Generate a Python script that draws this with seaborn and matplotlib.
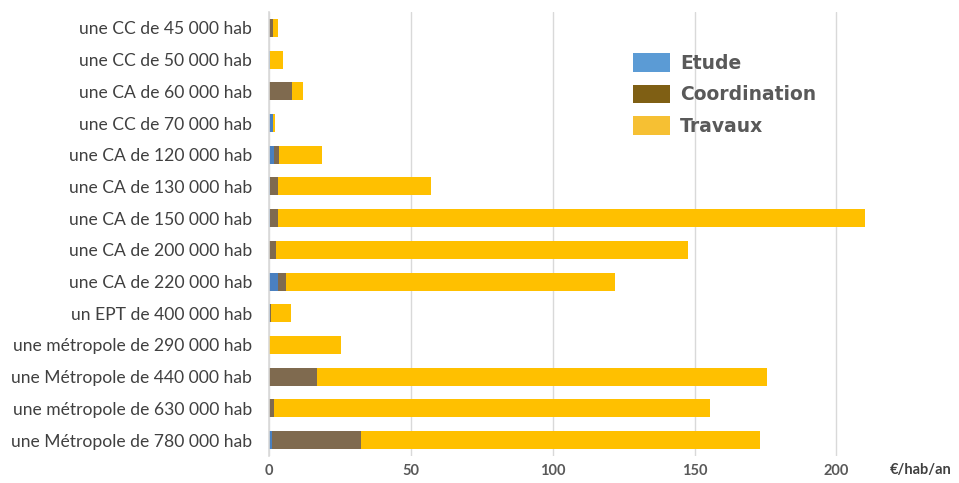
import matplotlib
matplotlib.use("Agg")
import matplotlib.pyplot as plt
import seaborn as sns
import pandas as pd
import numpy as np
from matplotlib.patches import Patch

categories = [
    "une CC de 45 000 hab",
    "une CC de 50 000 hab",
    "une CA de 60 000 hab",
    "une CC de 70 000 hab",
    "une CA de 120 000 hab",
    "une CA de 130 000 hab",
    "une CA de 150 000 hab",
    "une CA de 200 000 hab",
    "une CA de 220 000 hab",
    "un EPT de 400 000 hab",
    "une métropole de 290 000 hab",
    "une Métropole de 440 000 hab",
    "une métropole de 630 000 hab",
    "une Métropole de 780 000 hab",
]
etude = [0.0, 0.3, 0.0, 1.3, 1.6, 0.4, 0.2, 0.0, 3.0, 0.2, 0.0, 0.0, 0.0, 1.2]
coordination = [1.5, 0.0, 8.0, 0.2, 2.0, 2.8, 2.9, 2.6, 3.0, 0.6, 0.0, 17.0, 1.8, 31.3]
travaux = [1.5, 4.7, 3.9, 0.5, 15.0, 54.0, 207.0, 145.0, 116.0, 7.0, 25.3, 158.4, 153.8, 140.4]

df = pd.DataFrame({"cat": categories, "Etude": etude,
                   "Coordination": coordination, "Travaux": travaux})
df["c1"] = df["Etude"]
df["c2"] = df["Etude"] + df["Coordination"]
df["c3"] = df["c2"] + df["Travaux"]

sns.set_theme(style="white")
plt.rcParams["font.family"] = ["Lato", "DejaVu Sans"]

fig = plt.figure(figsize=(9.59, 4.83), dpi=100)
ax = fig.add_axes([0.2805, 0.056, 0.71, 0.919])

bar_colors = {"Etude": "#4A80C0", "Coordination": "#7F6A4F", "Travaux": "#FFC000"}
w = 0.57
sns.barplot(data=df, y="cat", x="c3", color=bar_colors["Travaux"], orient="h",
            width=w, ax=ax, saturation=1, edgecolor="none", order=categories)
sns.barplot(data=df, y="cat", x="c2", color=bar_colors["Coordination"], orient="h",
            width=w, ax=ax, saturation=1, edgecolor="none", order=categories)
sns.barplot(data=df, y="cat", x="c1", color=bar_colors["Etude"], orient="h",
            width=w, ax=ax, saturation=1, edgecolor="none", order=categories)

ax.set_xlim(0, 240)
ax.set_ylim(len(categories) - 0.5, -0.5)
ax.set_xticks([0, 50, 100, 150, 200])
ax.set_xlabel("")
ax.set_ylabel("")
ax.xaxis.grid(True, color="#D9D9D9", linewidth=1)
ax.set_axisbelow(True)
for s in ["top", "right", "bottom"]:
    ax.spines[s].set_visible(False)
ax.spines["left"].set_color("#D9D9D9")
ax.spines["left"].set_linewidth(1.2)
ax.tick_params(axis="both", length=0)
ax.tick_params(axis="y", labelsize=12.6, labelcolor="#404040", pad=12)
ax.tick_params(axis="x", labelsize=10.5, labelcolor="#595959", pad=6)
for t in ax.get_xticklabels():
    t.set_fontweight("bold")

fig.text(0.96, 0.027, "€/hab/an", ha="center", va="center", fontsize=10.5,
         fontweight="bold", color="#404040")

legend_colors = ["#5B9BD5", "#7F5F14", "#F6C033"]
handles = [Patch(facecolor=c, edgecolor="none", label=l)
           for c, l in zip(legend_colors, ["Etude", "Coordination", "Travaux"])]
leg = ax.legend(handles=handles, loc="upper left", bbox_to_anchor=(0.5236, 0.925),
                frameon=False, prop={"family": "DejaVu Sans", "weight": "bold", "size": 13.5},
                handlelength=1.97, handleheight=1.17,
                labelspacing=0.64, handletextpad=0.53, borderaxespad=0)
for t in leg.get_texts():
    t.set_color("#595959")

fig.savefig("out.png", dpi=100)
